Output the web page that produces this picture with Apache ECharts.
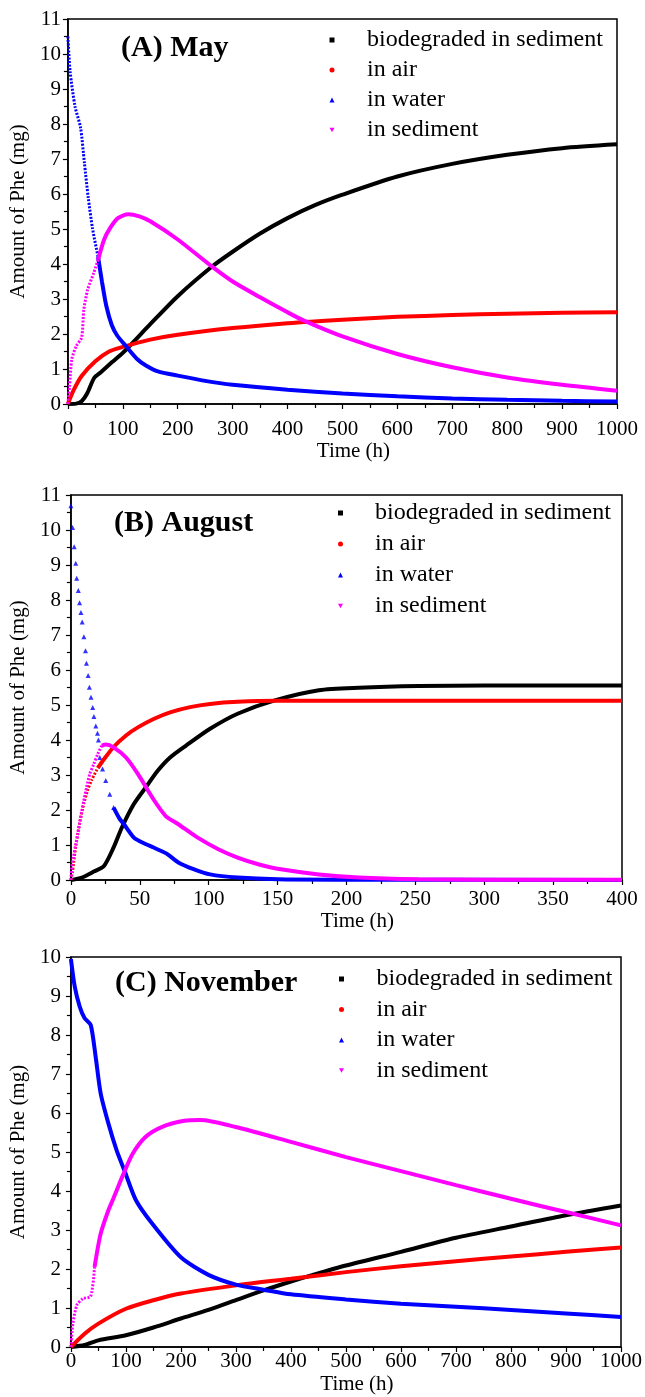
<!DOCTYPE html>
<html>
<head>
<meta charset="utf-8">
<script src="https://cdn.jsdelivr.net/npm/echarts@6/dist/echarts.min.js"></script>
<style>
  html, body { margin: 0; padding: 0; background: #fff; }
  #chart { width: 645px; height: 1397px; }
</style>
</head>
<body>
<div id="chart"></div>
<script>
// legend names
var names = ["biodegraded in sediment", "in air", "in water", "in sediment"];
var titles = ["(A) May", "(B) August", "(C) November"];

// tick labels (x axis max / interval per panel, y max)
var xMax = [1000, 400, 1000];
var xStep = [100, 50, 100];
var yMax = [11, 11, 10];

// (A) May  [time h, amount mg]
var mayBio = [[0,0],[15,0.01],[25,0.08],[35,0.3],[48,0.75],[60,0.91],[80,1.19],[100,1.46],[150,2.28],[200,3.08],[262,3.92],[300,4.35],[350,4.87],[400,5.31],[450,5.68],[500,5.98],[600,6.5],[700,6.86],[800,7.12],[900,7.31],[1000,7.42]];
var mayAir = [[0,0],[10,0.38],[25,0.8],[50,1.22],[75,1.5],[100,1.63],[150,1.84],[200,1.98],[300,2.17],[400,2.31],[500,2.41],[600,2.49],[700,2.54],[800,2.58],[900,2.61],[1000,2.62]];
var mayWater = [[0,10.5],[4,9.5],[13,8.5],[23,7.9],[30,6.9],[37,5.9],[45,5.0],[55,4.2],[62,3.5],[70,2.8],[80,2.25],[90,1.95],[106,1.65],[127,1.27],[142,1.1],[164,0.93],[200,0.81],[250,0.66],[300,0.55],[400,0.41],[500,0.3],[600,0.22],[700,0.16],[800,0.12],[900,0.09],[1000,0.07]];
var maySed = [[0,0],[3,0.5],[7,1.27],[15,1.65],[25,1.9],[29,2.7],[36,3.27],[47,3.74],[55,4.12],[66,4.7],[77,5.03],[91,5.31],[110,5.42],[130,5.36],[150,5.22],[200,4.7],[262,3.93],[300,3.5],[350,3.05],[400,2.62],[430,2.38],[500,1.93],[600,1.43],[700,1.05],[800,0.76],[900,0.55],[1000,0.38]];

// (B) August
var augBio = [[0,0],[7.9,0.07],[16.6,0.24],[24,0.4],[31,0.93],[37,1.5],[45.7,2.17],[54.4,2.65],[63,3.12],[72,3.5],[83.6,3.84],[101,4.32],[121,4.75],[148,5.13],[180,5.42],[209,5.49],[252,5.54],[300,5.56],[400,5.56]];
var augAir = [[0,0],[1,0.2],[2,0.5],[3.5,0.95],[5.5,1.45],[7.5,1.85],[9.5,2.2],[12,2.55],[15,2.85],[19.5,3.2],[24,3.45],[31,3.8],[40,4.13],[48.6,4.36],[60,4.6],[72,4.79],[86.5,4.94],[101,5.03],[121,5.09],[150,5.12],[200,5.12],[400,5.12]];
var augWater = [[0,10.69],[1.2,10.07],[2.4,9.52],[3.5,9.05],[4.2,8.62],[5.4,8.27],[6.3,7.92],[7.3,7.64],[8.2,7.37],[9.4,6.95],[10.6,6.55],[11.3,6.19],[12.5,5.84],[13.4,5.51],[14.6,5.22],[15.8,4.93],[16.7,4.67],[18.1,4.4],[19.3,4.19],[20,4.0],[21,3.5],[23,3.17],[25.3,2.84],[28.2,2.45],[31,2.07],[35.5,1.74],[38.4,1.6],[42,1.4],[46,1.2],[53,1.05],[60,0.93],[66,0.82],[70,0.74],[78,0.5],[89,0.31],[101,0.16],[121,0.07],[150,0.02],[200,0.01],[400,0]];
var augSed = [[0,0],[0.6,0.35],[2,0.69],[3.5,1.02],[5,1.31],[6.4,1.64],[7.9,1.98],[9.3,2.26],[11.4,2.65],[13.7,3.03],[16.6,3.31],[19.5,3.6],[22.4,3.84],[25.3,3.87],[31,3.79],[40,3.5],[48.6,3.03],[60,2.3],[69,1.82],[77.7,1.6],[92,1.21],[107,0.88],[121,0.64],[136,0.45],[150,0.32],[180,0.16],[209,0.07],[252,0.02],[300,0.01],[400,0.01]];

// (C) November
var novBio = [[0,0],[25,0.05],[50,0.17],[100,0.3],[150,0.5],[200,0.73],[250,0.95],[300,1.2],[350,1.45],[400,1.68],[440,1.85],[500,2.09],[600,2.44],[700,2.8],[800,3.09],[900,3.38],[1000,3.63]];
var novAir = [[0,0],[25,0.34],[50,0.6],[100,0.98],[150,1.2],[200,1.37],[300,1.58],[400,1.75],[500,1.92],[600,2.07],[700,2.2],[800,2.32],[900,2.44],[1000,2.55]];
var novWater = [[0,9.95],[7,9.24],[16,8.73],[25,8.43],[36,8.26],[45,7.44],[54,6.51],[68,5.74],[83,5.05],[98,4.5],[118,3.77],[148,3.16],[200,2.3],[250,1.85],[300,1.6],[350,1.47],[400,1.35],[500,1.22],[600,1.11],[700,1.03],[800,0.95],[900,0.86],[1000,0.77]];
var novSed = [[0,0],[3.6,0.6],[10.8,1.07],[21.7,1.24],[36,1.3],[43,2.05],[54,2.9],[68,3.5],[77,3.8],[87,4.15],[95,4.42],[112,4.95],[136,5.39],[165,5.64],[206,5.8],[235,5.82],[300,5.64],[400,5.26],[500,4.87],[600,4.51],[700,4.15],[800,3.8],[900,3.46],[1000,3.12]];

var colors = ["#000000", "#ff0000", "#0000ff", "#ff00ff"];
var font = "Liberation Serif";

var myChart = echarts.init(document.getElementById("chart"));

var grids = [
  { left: 52, top: 19, width: 565, height: 385 },
  { left: 55, top: 495, width: 567, height: 385 },
  { left: 56, top: 957, width: 569, height: 390 }
];
var xLabelMargin = [15, 9, 4];
var yLabelMargin = [7, 10, 10];
var xNameGap = [30, 27, 27];
var yNameGap = [22, 23, 20];

// parts of each curve drawn as dotted (sparse points in reference)
function upTo(arr, t) { return arr.filter(function (p) { return p[0] <= t; }); }
function from(arr, t) { return arr.filter(function (p) { return p[0] >= t; }); }

function solid(name, idx, data, panel) {
  return {
    name: name, type: "line", xAxisIndex: panel, yAxisIndex: panel,
    data: data, symbol: "none", smooth: 0.25,
    lineStyle: { color: colors[idx], width: 4 }, itemStyle: { color: colors[idx] },
    animation: false
  };
}
function dotted(name, idx, data, panel) {
  var s = solid(name, idx, data, panel);
  s.lineStyle = { color: colors[idx], width: 3, type: [2, 1.5] };
  return s;
}
function dots(name, idx, data, panel, sym) {
  return {
    name: name, type: "scatter", xAxisIndex: panel, yAxisIndex: panel,
    data: data, symbol: sym, symbolSize: 5,
    itemStyle: { color: colors[idx] }, animation: false
  };
}

var series = [
  solid(names[0], 0, mayBio, 0),
  solid(names[1], 1, mayAir, 0),
  dotted(names[2], 2, upTo(mayWater, 55), 0),
  solid(names[2], 2, from(mayWater, 55), 0),
  dotted(names[3], 3, upTo(maySed, 55), 0),
  solid(names[3], 3, from(maySed, 55), 0),

  solid(names[0], 0, augBio, 1),
  dotted(names[1], 1, upTo(augAir, 19.5), 1),
  solid(names[1], 1, from(augAir, 19.5), 1),
  dots(names[2], 2, upTo(augWater, 31), 1, "triangle"),
  solid(names[2], 2, from(augWater, 31), 1),
  dotted(names[3], 3, upTo(augSed, 22.4), 1),
  solid(names[3], 3, from(augSed, 22.4), 1),

  solid(names[0], 0, novBio, 2),
  solid(names[1], 1, novAir, 2),
  solid(names[2], 2, novWater, 2),
  dotted(names[3], 3, upTo(novSed, 43), 2),
  solid(names[3], 3, from(novSed, 43), 2)
];

var xAxes = [], yAxes = [];
for (var i = 0; i < 3; i++) {
  xAxes.push({
    type: "value", gridIndex: i, min: 0, max: xMax[i], interval: xStep[i],
    name: "Time (h)", nameLocation: "middle", nameGap: xNameGap[i],
    nameTextStyle: { fontFamily: font, fontSize: 21, color: "#000", padding: [0, 0, 0, 22] },
    axisLine: { lineStyle: { color: "#000", width: 1.5 } },
    axisTick: { inside: false, length: 5, lineStyle: { color: "#000", width: 1.2 } },
    minorTick: { show: true, splitNumber: 2, length: 4, lineStyle: { color: "#000", width: 1.2 } },
    axisLabel: { fontFamily: font, fontSize: 21, color: "#000", margin: xLabelMargin[i], formatter: function (v) { return String(v); } },
    splitLine: { show: false }
  });
  yAxes.push({
    type: "value", gridIndex: i, min: 0, max: yMax[i], interval: 1,
    name: "Amount of Phe (mg)", nameLocation: "middle", nameGap: yNameGap[i], nameRotate: 90,
    nameTextStyle: { fontFamily: font, fontSize: 21, color: "#000" },
    axisLine: { lineStyle: { color: "#000", width: 1.5 } },
    axisTick: { inside: false, length: 5, lineStyle: { color: "#000", width: 1.2 } },
    minorTick: { show: true, splitNumber: 2, length: 4, lineStyle: { color: "#000", width: 1.2 } },
    axisLabel: { fontFamily: font, fontSize: 21, color: "#000", margin: yLabelMargin[i] },
    splitLine: { show: false }
  });
}

var legendPos = [
  { left: 329.5, top: 28, itemGap: 6, pad: 27.5 },
  { left: 338, top: 501, itemGap: 7, pad: 27 },
  { left: 339, top: 967, itemGap: 6.5, pad: 27.5 }
];
var icons = ["rect", "circle", "triangle", "path://M0,0L10,0L5,9Z"];
var legends = legendPos.map(function (p) {
  return {
    orient: "vertical", left: p.left, top: p.top, itemGap: p.itemGap,
    itemWidth: 5, itemHeight: 5, padding: 0, selectedMode: false,
    data: names.map(function (n, k) { return { name: n, icon: icons[k] }; }),
    textStyle: { fontFamily: font, fontSize: 24, color: "#000", padding: [0, 0, 0, p.pad] }
  };
});

var titlePos = [{ left: 121, top: 33 }, { left: 114, top: 508 }, { left: 115, top: 968 }];
var titleOpts = titlePos.map(function (p, k) {
  return {
    text: titles[k], left: p.left, top: p.top, padding: 0,
    textStyle: { fontFamily: font, fontSize: 30, fontWeight: "bold", color: "#000" }
  };
});

myChart.setOption({
  backgroundColor: "#fff",
  animation: false,
  title: titleOpts,
  legend: legends,
  grid: grids.map(function (g) {
    return { left: g.left, top: g.top, width: g.width, height: g.height, show: true, borderColor: "#000", borderWidth: 1.5, backgroundColor: "transparent" };
  }),
  xAxis: xAxes,
  yAxis: yAxes,
  series: series
});
</script>
</body>
</html>
